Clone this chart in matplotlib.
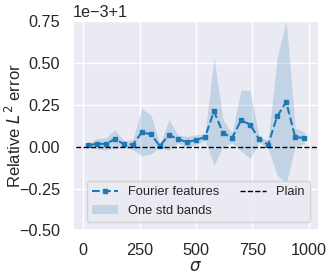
import matplotlib
matplotlib.use("Agg")
import matplotlib.pyplot as plt
from matplotlib.ticker import ScalarFormatter
import numpy as np
import seaborn as sns

# sigma values and relative L2 error (shown as deviation from 1, in units of 1e-3)
sigma = [20, 60, 100, 140, 180, 220, 260, 300, 340, 380, 420, 460, 500,
         540, 580, 620, 660, 700, 740, 780, 820, 860, 900, 940, 980]
mean_dev = [0.008, 0.016, 0.016, 0.044, 0.016, 0.012, 0.085, 0.073, 0.004,
            0.069, 0.046, 0.026, 0.040, 0.056, 0.210, 0.081, 0.052, 0.157,
            0.131, 0.044, 0.012, 0.180, 0.266, 0.056, 0.052]
std_dev = [0.008, 0.032, 0.036, 0.057, 0.020, 0.030, 0.141, 0.117, 0.008,
           0.092, 0.025, 0.034, 0.031, 0.019, 0.320, 0.080, 0.029, 0.183,
           0.202, 0.019, 0.024, 0.350, 0.484, 0.055, 0.035]
plain_x = [-100, 1100]
plain_err = [1.0, 1.0]

sns.set_theme(style="darkgrid")
plt.rcParams['font.family'] = ['Liberation Sans', 'DejaVu Sans']

x = np.array(sigma)
mean = 1 + 1e-3 * np.array(mean_dev)
std = 1e-3 * np.array(std_dev)

fig = plt.figure(figsize=(3.33, 2.74), dpi=100)
ax = fig.add_axes([0.218, 0.159, 0.741, 0.765])

ax.plot(x, mean, '--s', color='#1f77b4', markersize=3.2, linewidth=1.5,
        label='Fourier features')
ax.fill_between(x, mean - std, mean + std, color='#1f77b4', alpha=0.2,
                linewidth=0, label='One std bands')
ax.plot(plain_x, plain_err, '--', color='black', linewidth=1.0, label='Plain')

ax.set_xlim(-47, 1047)
ax.set_ylim(1 - 0.5e-3, 1 + 0.75e-3)
ax.set_xticks([0, 250, 500, 750, 1000])
ax.set_yticks(1 + 1e-3 * np.array([-0.5, -0.25, 0, 0.25, 0.5, 0.75]))

fmt = ScalarFormatter(useOffset=1.0)
fmt.set_powerlimits((0, 0))
ax.yaxis.set_major_formatter(fmt)

ax.tick_params(labelsize=11.7, pad=3)
ax.yaxis.get_offset_text().set_fontsize(11.7)

ax.set_xlabel(r'$\sigma$', fontsize=12, labelpad=1)
ax.set_ylabel(r'Relative $L^2$ error', fontsize=12)
ax.yaxis.set_label_coords(-0.195, 0.5)

ax.legend(loc='lower center', ncol=2, fontsize=9.3, columnspacing=1.6,
          handlelength=2.0, borderaxespad=0.65, bbox_to_anchor=(0.51, 0))

fig.savefig('out.png', dpi=100)
